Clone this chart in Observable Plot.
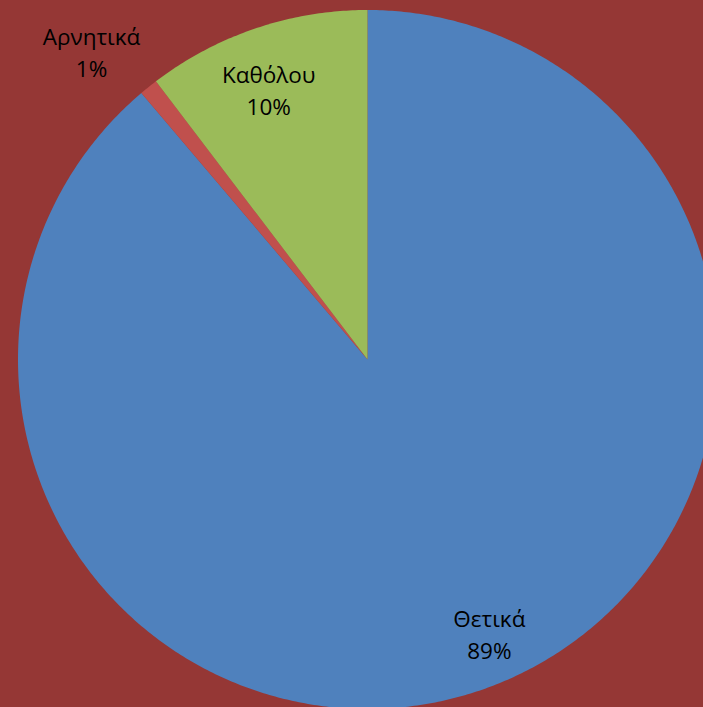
<!DOCTYPE html>
<html>
<head>
<meta charset="utf-8">
<script src="https://cdn.jsdelivr.net/npm/d3@7"></script>
<script src="https://cdn.jsdelivr.net/npm/@observablehq/plot@0.6"></script>
<style>
  html, body { margin: 0; padding: 0; background: #953735; overflow: hidden; }
  svg { overflow: hidden; display: block; }
</style>
</head>
<body>
<div id="chart"></div>
<script>
// Data (shares; labels as printed)
const categories = ["Θετικά", "Αρνητικά", "Καθόλου"];
const values = [88.8, 0.85, 10.35];
const percentLabels = ["89%", "1%", "10%"];
const colors = ["#4F81BD", "#C0504D", "#9BBB59"];

// Layout (pixels)
const W = 703, H = 707, CX = 367, CY = 359, R = 349.5;
// label placement: radius factor and angle nudge (degrees)
const labelLayout = {
  "Θετικά": { r: 0.855, da: -3.9 },
  "Αρνητικά": { r: 1.185, da: -3 },
  "Καθόλου": { r: 0.825, da: -1.4 }
};

const arcs = d3.pie().sort(null).value(d => d)(values);

const pts = [];
arcs.forEach((a, i) => {
  const name = categories[i];
  pts.push({ slice: name, x: 0, y: 0 });
  const n = Math.max(2, Math.ceil((a.endAngle - a.startAngle) / (Math.PI / 360)));
  for (let k = 0; k <= n; k++) {
    const t = a.startAngle + (a.endAngle - a.startAngle) * k / n;
    pts.push({ slice: name, x: Math.sin(t), y: Math.cos(t) });
  }
  pts.push({ slice: name, x: 0, y: 0 });
});

const labels = arcs.map((a, i) => {
  const name = categories[i];
  const L = labelLayout[name];
  const mid = (a.startAngle + a.endAngle) / 2 + L.da * Math.PI / 180;
  return { x: L.r * Math.sin(mid), y: L.r * Math.cos(mid), text: name + "\n" + percentLabels[i] };
});

const chart = Plot.plot({
  width: W,
  height: H,
  margin: 0,
  style: { background: "#953735", fontFamily: "'Open Sans', sans-serif", overflow: "hidden" },
  x: { domain: [-CX / R, (W - CX) / R], range: [0, W], axis: null },
  y: { domain: [-(H - CY) / R, CY / R], range: [H, 0], axis: null },
  color: { domain: categories, range: colors },
  marks: [
    Plot.line(pts, { x: "x", y: "y", z: "slice", fill: "slice", stroke: "none", curve: "linear" }),
    Plot.text(labels, { x: "x", y: "y", text: "text", fontSize: 22.5, lineHeight: 1.45, fill: "#000", textAnchor: "middle" })
  ]
});
document.getElementById("chart").append(chart);
</script>
</body>
</html>
